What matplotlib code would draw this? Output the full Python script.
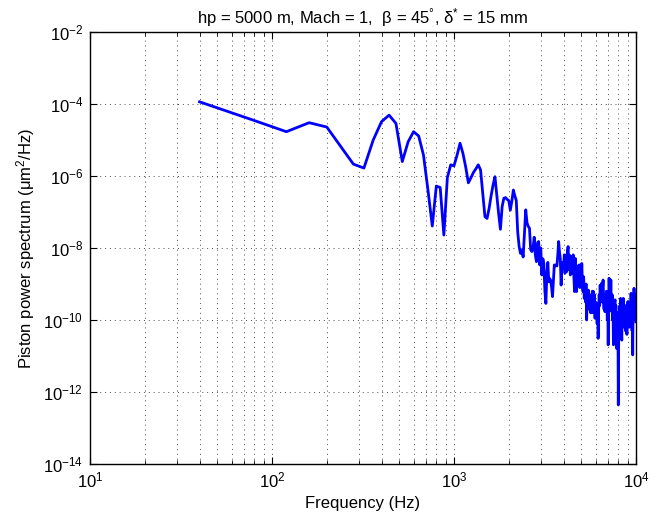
import numpy as np
import matplotlib.pyplot as plt
from matplotlib.ticker import LogLocator, NullLocator

plt.rcParams['font.family'] = ['Liberation Sans', 'DejaVu Sans']
plt.rcParams['mathtext.fontset'] = 'custom'
plt.rcParams['mathtext.rm'] = 'Liberation Sans'
plt.rcParams['mathtext.it'] = 'Liberation Sans:italic'

# frequency grid of the spectrum (Hz), 40 Hz resolution
freq = np.arange(40, 10001, 40)

# log10 of the piston power spectrum (um^2/Hz)
psd_log = [
    -3.94, -4.46, -4.77, -4.52, -4.64, -5.20, -5.67, -5.78, -5.00, -4.49,
    -4.31, -4.54, -5.60, -5.05, -4.77, -4.89, -5.42, -6.40, -7.39, -6.28,
    -6.32, -7.64, -6.04, -5.69, -5.72, -5.42, -5.09, -5.37, -5.75, -6.19,
    -6.05, -5.90, -5.80, -5.69, -5.83, -6.50, -7.13, -7.18, -6.90, -6.55,
    -6.25, -6.02, -6.55, -7.05, -7.48, -6.85, -6.62, -6.60, -6.65, -6.68,
    -6.95, -6.70, -6.39, -6.55, -6.68, -7.55, -7.95, -8.15, -8.05, -8.25,
    -7.60, -6.94, -7.30, -7.40, -7.45, -8.05, -8.10, -8.00, -7.70, -8.20,
    -8.38, -7.85, -7.82, -8.47, -8.00, -8.75, -8.30, -8.45, -9.20, -9.54,
    -8.70, -8.40, -8.94, -8.85, -8.90, -9.10, -9.35, -8.90, -8.47, -8.50,
    -8.47, -8.50, -8.20, -7.82, -8.10, -8.29, -9.03, -8.60, -8.40, -8.55,
    -8.19, -8.70, -8.20, -8.66, -8.10, -7.96, -8.60, -8.20, -8.75, -8.30,
    -8.24, -8.70, -8.19, -8.80, -9.21, -8.29, -8.90, -9.21, -8.50, -9.00,
    -8.60, -8.47, -9.10, -8.60, -9.00, -8.43, -9.00, -9.21, -8.80, -9.40,
    -9.07, -9.50, -9.00, -10.00, -9.20, -9.60, -9.17, -9.70, -9.30, -9.35,
    -9.80, -9.30, -9.58, -9.20, -9.80, -9.21, -9.70, -9.30, -9.95, -9.50,
    -9.90, -9.54, -10.10, -9.60, -10.51, -9.70, -9.30, -9.60, -9.03, -9.50,
    -9.10, -8.98, -9.50, -9.10, -8.89, -9.40, -9.70, -9.30, -9.77, -9.30,
    -9.70, -9.20, -9.49, -10.00, -9.50, -10.69, -9.60, -8.84, -9.40, -9.00,
    -9.50, -8.89, -9.60, -9.77, -9.30, -10.00, -9.50, -10.69, -9.60, -10.00,
    -9.50, -9.44, -10.00, -9.60, -10.20, -10.79, -9.90, -10.50, -9.80, -12.36,
    -10.40, -9.77, -10.10, -9.60, -10.00, -9.40, -9.90, -10.30, -10.56, -9.80,
    -10.20, -9.60, -9.40, -10.00, -9.60, -10.20, -10.05, -9.60, -10.30, -9.70,
    -10.10, -9.86, -10.40, -9.70, -9.50, -10.10, -9.49, -10.00, -9.60, -10.20,
    -9.70, -10.14, -9.60, -9.90, -9.26, -9.80, -9.50, -10.30, -9.80, -10.97,
    -9.90, -9.50, -9.80, -9.12, -9.60, -9.30, -9.80, -9.44, -9.90, -10.05,
]
psd = 10.0 ** np.array(psd_log)

yticks = [1e-14, 1e-12, 1e-10, 1e-8, 1e-6, 1e-4, 1e-2]

fig = plt.figure(figsize=(6.59, 5.2), dpi=100)
ax = fig.add_axes([0.1366, 0.1077, 0.8284, 0.8308])

ax.loglog(freq, psd, color=(0, 0, 1), lw=2)

ax.set_xlim(10, 1e4)
ax.set_ylim(1e-14, 1e-2)
ax.set_yticks(yticks)
ax.yaxis.set_minor_locator(NullLocator())
ax.xaxis.set_minor_locator(LogLocator(base=10, subs=np.arange(2, 10)))

grid_style = dict(linestyle=(0, (1, 4)), color='k', lw=0.7, alpha=0.7)
ax.grid(True, which='both', axis='x', **grid_style)
ax.grid(True, which='major', axis='y', **grid_style)

ax.tick_params(which='both', direction='in', top=True, right=True, labelsize=12)
ax.tick_params(which='major', length=5, width=0.8, pad=5)
ax.tick_params(which='minor', length=3, width=0.6)
for s in ax.spines.values():
    s.set_linewidth(1.0)

ax.set_title('hp = 5000 m, Mach = 1,  β = 45$^{°}$, δ$^{*}$ = 15 mm', fontsize=12, pad=6)
ax.set_xlabel('Frequency (Hz)', fontsize=12)
ax.set_ylabel('Piston power spectrum (μm$^2$/Hz)', fontsize=12)

fig.savefig('out.png', dpi=100)
